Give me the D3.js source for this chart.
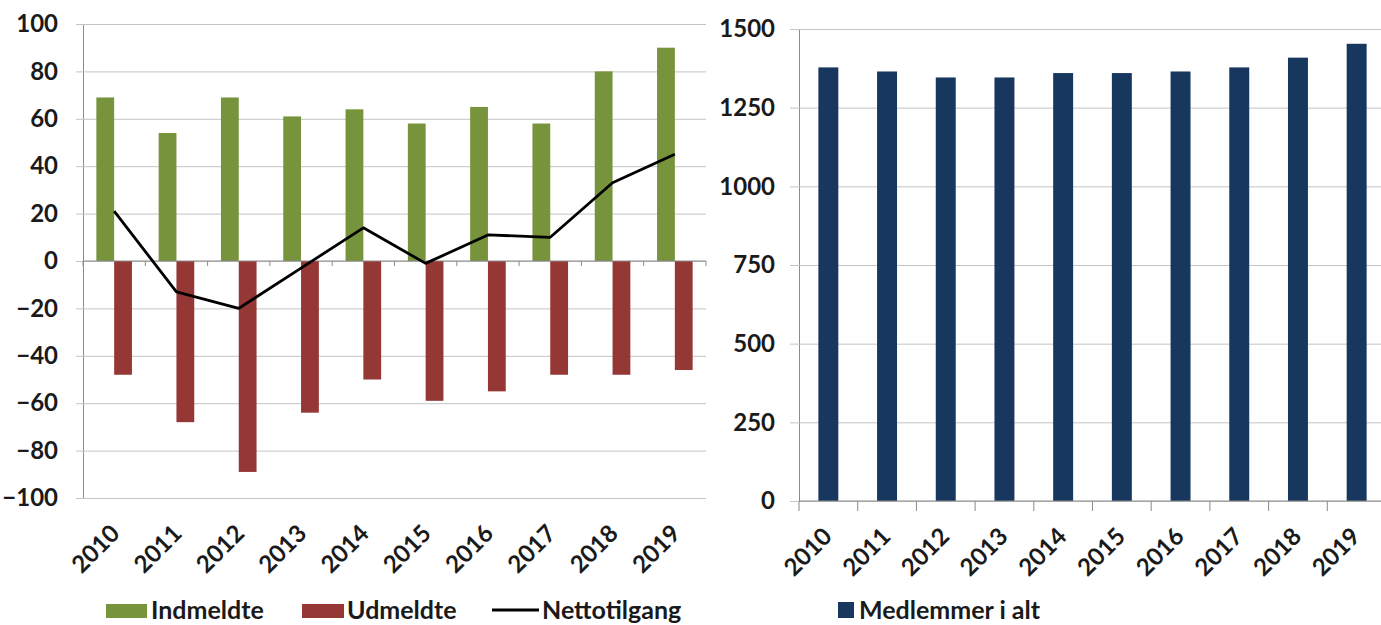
<!DOCTYPE html>
<html>
<head>
<meta charset="utf-8">
<script src="https://cdn.jsdelivr.net/npm/d3@7"></script>
<style>
  body { margin: 0; background: #fff; }
  text { font-family: Lato, "Open Sans", sans-serif; font-weight: bold; fill: #1a1a1a; }
</style>
</head>
<body>
<svg id="chart" width="1381" height="625"></svg>
<script>
// Membership flows per year (left) and total membership (right)
const years = ["2010","2011","2012","2013","2014","2015","2016","2017","2018","2019"];
const indmeldte = [69, 54, 69, 61, 64, 58, 65, 58, 80, 90];
const udmeldte = [-48, -68, -89, -64, -50, -59, -55, -48, -48, -46];
const nettotilgang = [21, -13, -20, -3, 14, -1, 11, 10, 33, 45];
const medlemmer = [1378, 1365, 1346, 1346, 1360, 1360, 1365, 1378, 1409, 1453];
const flowTicks = [-100, -80, -60, -40, -20, 0, 20, 40, 60, 80, 100];
const totalTicks = [0, 250, 500, 750, 1000, 1250, 1500];
const flowSeries = ["Indmeldte", "Udmeldte"];

const COL_IN = "#77933C", COL_OUT = "#953735", COL_NET = "#000000", COL_TOT = "#17375E";
const GRID = "#c4c4c4", AXIS = "#8a8a8a";
const AX_FONT = "24px", LEG_FONT = "25px";

const svg = d3.select("#chart");

// ---------- Left panel: inflow / outflow / net ----------
const L = { x0: 83, x1: 706, yTop: 24, yBot: 498 };
const yL = d3.scaleLinear().domain([-100, 100]).range([L.yBot, L.yTop]);
const xL = d3.scaleBand().domain(years).range([L.x0, L.x1]).paddingInner(0.4286).paddingOuter(0.2143);
const xLcat = d3.scaleBand().domain(years).range([L.x0, L.x1]);
const xLsub = d3.scaleBand().domain(flowSeries).range([0, xL.bandwidth()]);

const gL = svg.append("g");
const axL = gL.append("g").attr("transform", `translate(${L.x0},0)`)
  .call(d3.axisLeft(yL).tickValues(flowTicks).tickFormat(d3.format("d"))
    .tickSizeInner(-(L.x1 - L.x0)).tickSizeOuter(0).tickPadding(25));
axL.select(".domain").attr("stroke", AXIS);
axL.selectAll(".tick line").attr("stroke", GRID).attr("x1", -7);
axL.selectAll(".tick text").style("font-size", AX_FONT).attr("fill", "#1a1a1a");

const rowsL = years.map((y, i) => ({ year: y, Indmeldte: indmeldte[i], Udmeldte: udmeldte[i] }));
gL.append("g").selectAll("g").data(rowsL).join("g")
  .attr("transform", d => `translate(${xL(d.year)},0)`)
  .selectAll("rect").data(d => flowSeries.map(k => ({ key: k, v: d[k] }))).join("rect")
  .attr("x", d => xLsub(d.key))
  .attr("width", xLsub.bandwidth())
  .attr("y", d => yL(Math.max(0, d.v)))
  .attr("height", d => Math.abs(yL(d.v) - yL(0)))
  .attr("fill", d => d.key === "Indmeldte" ? COL_IN : COL_OUT);

// category axis crossing at zero
const y0 = yL(0);
gL.append("line").attr("x1", L.x0).attr("x2", L.x1).attr("y1", y0).attr("y2", y0).attr("stroke", AXIS);
gL.append("g").selectAll("line").data(d3.range(years.length + 1)).join("line")
  .attr("x1", i => L.x0 + i * xLcat.step()).attr("x2", i => L.x0 + i * xLcat.step())
  .attr("y1", y0).attr("y2", y0 + 5).attr("stroke", AXIS);

// net line
const netLine = d3.line().x((d, i) => xLcat(years[i]) + xLcat.bandwidth() / 2).y(d => yL(d));
gL.append("path").datum(nettotilgang).attr("d", netLine)
  .attr("fill", "none").attr("stroke", COL_NET).attr("stroke-width", 2.8).attr("stroke-linejoin", "round");

// year labels
gL.append("g").selectAll("text").data(years).join("text")
  .attr("transform", d => `translate(${xLcat(d) + xLcat.bandwidth() / 2 + 7},${L.yBot + 37}) rotate(-45)`)
  .attr("text-anchor", "end").style("font-size", AX_FONT).text(d => d);

// legend
const legL = gL.append("g");
legL.append("rect").attr("x", 106).attr("y", 604).attr("width", 41).attr("height", 14).attr("fill", COL_IN);
legL.append("text").attr("x", 151).attr("y", 619).style("font-size", LEG_FONT).text("Indmeldte");
legL.append("rect").attr("x", 302).attr("y", 604).attr("width", 42).attr("height", 14).attr("fill", COL_OUT);
legL.append("text").attr("x", 347).attr("y", 619).style("font-size", LEG_FONT).text("Udmeldte");
legL.append("line").attr("x1", 492).attr("x2", 539).attr("y1", 610).attr("y2", 610).attr("stroke", COL_NET).attr("stroke-width", 2.8);
legL.append("text").attr("x", 542).attr("y", 619).style("font-size", LEG_FONT).text("Nettotilgang");

// ---------- Right panel: total members ----------
const R = { x0: 799, x1: 1386, yTop: 29, yBot: 501 };
const yR = d3.scaleLinear().domain([0, 1500]).range([R.yBot, R.yTop]);
const xR = d3.scaleBand().domain(years).range([R.x0, R.x1]).paddingInner(0.66).paddingOuter(0.33);
const xRcat = d3.scaleBand().domain(years).range([R.x0, R.x1]);

const gR = svg.append("g");
const axR = gR.append("g").attr("transform", `translate(${R.x0},0)`)
  .call(d3.axisLeft(yR).tickValues(totalTicks).tickFormat(d3.format("d"))
    .tickSizeInner(-(R.x1 - R.x0)).tickSizeOuter(0).tickPadding(24));
axR.select(".domain").attr("stroke", AXIS);
axR.selectAll(".tick line").attr("stroke", GRID).attr("x1", -9);
axR.selectAll(".tick text").style("font-size", AX_FONT).attr("fill", "#1a1a1a");

gR.append("g").selectAll("rect").data(years).join("rect")
  .attr("x", d => xR(d)).attr("width", xR.bandwidth())
  .attr("y", (d, i) => yR(medlemmer[i]))
  .attr("height", (d, i) => yR(0) - yR(medlemmer[i]))
  .attr("fill", COL_TOT);

gR.append("line").attr("x1", R.x0).attr("x2", R.x1).attr("y1", R.yBot).attr("y2", R.yBot).attr("stroke", AXIS);
gR.append("g").selectAll("line").data(d3.range(years.length + 1)).join("line")
  .attr("x1", i => R.x0 + i * xRcat.step()).attr("x2", i => R.x0 + i * xRcat.step())
  .attr("y1", R.yBot).attr("y2", R.yBot + 10).attr("stroke", AXIS);

gR.append("g").selectAll("text").data(years).join("text")
  .attr("transform", d => `translate(${xRcat(d) + xRcat.bandwidth() / 2 + 5},${R.yBot + 37}) rotate(-45)`)
  .attr("text-anchor", "end").style("font-size", AX_FONT).text(d => d);

const legR = gR.append("g");
legR.append("rect").attr("x", 838).attr("y", 602).attr("width", 16).attr("height", 16).attr("fill", COL_TOT);
legR.append("text").attr("x", 859).attr("y", 619).style("font-size", LEG_FONT).text("Medlemmer i alt");
</script>
</body>
</html>
